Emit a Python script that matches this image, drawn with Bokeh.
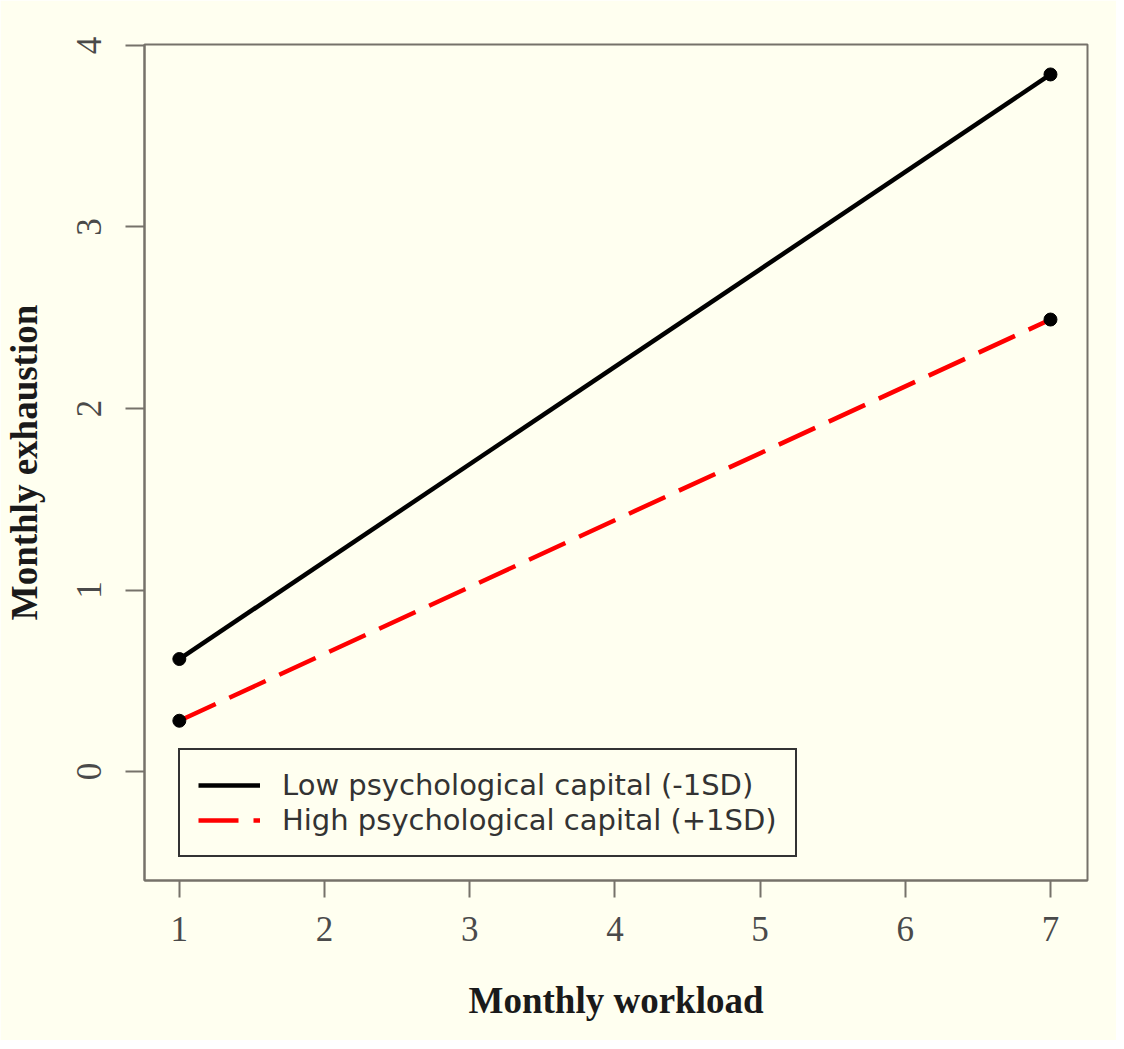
from bokeh.plotting import figure
from bokeh.models import Range1d, FixedTicker, Legend, LegendItem
from bokeh.embed import file_html
from bokeh.resources import INLINE

# data
workload = [1, 7]
low_capital = [0.62, 3.84]
high_capital = [0.28, 2.49]
x_ticks = [1, 2, 3, 4, 5, 6, 7]
y_ticks = [0, 1, 2, 3, 4]
low_label = "Low psychological capital (-1SD)"
high_label = "High psychological capital (+1SD)"

BG = "#fffff0"
BOX = "#76726a"

p = figure(width=1116, height=1040, output_backend="svg", toolbar_location=None,
           x_range=Range1d(0.76, 7.255), y_range=Range1d(-0.60, 4.005),
           min_border_left=143, min_border_right=29, min_border_top=44, min_border_bottom=160,
           background_fill_color=BG, border_fill_color=BG)

p.outline_line_color = BOX
p.outline_line_width = 2
p.grid.visible = False

for ax in (p.xaxis[0], p.yaxis[0]):
    ax.axis_line_color = BOX
    ax.axis_line_width = 2
    ax.major_tick_line_color = BOX
    ax.major_tick_line_width = 2
    ax.major_tick_in = 0
    ax.minor_tick_line_color = None
    ax.major_label_text_font = "Liberation Serif"
    ax.major_label_text_font_size = "35px"
    ax.major_label_text_color = "#4a4a4a"
    ax.axis_label_text_font = "Liberation Serif"
    ax.axis_label_text_font_style = "bold"
    ax.axis_label_text_font_size = "37px"
    ax.axis_label_text_color = "#1a1a1a"

p.xaxis.ticker = FixedTicker(ticks=x_ticks)
p.yaxis.ticker = FixedTicker(ticks=y_ticks)
p.xaxis.major_tick_out = 17
p.yaxis.major_tick_out = 19
p.xaxis.major_label_standoff = 19
p.yaxis.major_label_standoff = 24
p.yaxis.major_label_orientation = "vertical"
p.xaxis.axis_label = "Monthly workload"
p.yaxis.axis_label = "Monthly exhaustion"
p.xaxis.axis_label_standoff = 36
p.yaxis.axis_label_standoff = 30

r_low = p.line(workload, low_capital, line_color="black", line_width=4.5)
r_high = p.line(workload, high_capital, line_color="#ff0000", line_width=4.5, line_dash="40 15")
p.scatter(workload, low_capital, size=13, color="black")
p.scatter(workload, high_capital, size=13, color="black")

legend = Legend(items=[LegendItem(label=low_label, renderers=[r_low]),
                       LegendItem(label=high_label, renderers=[r_high])],
                location=(34, 23), orientation="vertical",
                label_text_font="DejaVu Sans", label_text_font_size="29px",
                label_text_color="#333333",
                glyph_width=62, glyph_height=30, label_standoff=22,
                spacing=1, padding=18, margin=0,
                border_line_color="#333333", border_line_width=2, border_line_alpha=1.0,
                background_fill_color=BG, background_fill_alpha=1.0)
p.add_layout(legend, "center")

open("out.html", "w").write(file_html(p, INLINE))
